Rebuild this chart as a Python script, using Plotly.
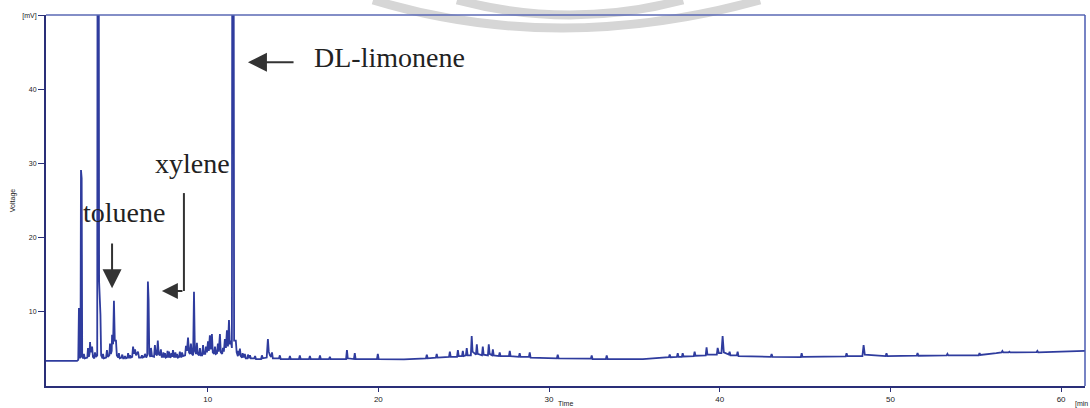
import plotly.graph_objects as go

# Chromatogram points (time in min, signal in mV)
time_min = [
    0.5, 2.35, 2.42, 2.46, 2.50, 2.55, 2.58, 2.62, 2.65, 2.72, 2.75, 2.80, 2.95, 2.99, 3.04, 3.08, 3.11, 3.15,
    3.23, 3.28, 3.36, 3.40, 3.46, 3.53, 3.58, 3.64, 3.72, 3.76, 3.84, 3.87, 3.92, 4.05, 4.10, 4.15, 4.24, 4.28,
    4.33, 4.38, 4.40, 4.46, 4.51, 4.56, 4.63, 4.68, 4.76, 4.80, 4.85, 4.95, 5.00, 5.05, 5.10, 5.16, 5.22, 5.30,
    5.34, 5.40, 5.45, 5.50, 5.58,
    5.63, 5.69, 5.75, 5.80, 5.92, 5.98, 6.10, 6.15, 6.20, 6.28, 6.33, 6.40, 6.46, 6.50, 6.54, 6.58, 6.64, 6.68,
    6.74, 6.86, 6.91, 6.96, 7.03, 7.08, 7.13, 7.20, 7.26, 7.31, 7.38, 7.41, 7.45, 7.50, 7.55, 7.62, 7.65, 7.69,
    7.74, 7.80, 7.85, 7.88, 7.92, 7.97,
    8.03, 8.08, 8.11, 8.15, 8.20, 8.26, 8.33, 8.37, 8.45, 8.50, 8.56, 8.68, 8.73, 8.79, 8.85, 8.91, 8.97, 9.02,
    9.08, 9.15, 9.20, 9.25,
    9.32, 9.37, 9.42, 9.50, 9.55, 9.60, 9.68, 9.73, 9.78, 9.86, 9.90, 9.96, 10.02, 10.07, 10.13, 10.18, 10.25,
    10.30, 10.38, 10.43, 10.48, 10.55, 10.60, 10.65, 10.72, 10.77, 10.85, 10.90, 10.95, 11.01, 11.07, 11.13,
    11.19, 11.25, 11.30, 11.36, 11.42, 11.48, 11.55, 11.65, 11.70, 11.77, 11.80, 11.84, 11.89, 11.94, 12.02,
    12.05, 12.13, 12.18, 12.23, 12.33, 12.36,
    12.43, 12.48, 12.53, 12.73, 12.78, 12.83, 13.13, 13.18, 13.23, 13.46, 13.53, 13.58, 13.65, 13.72, 13.77,
    13.82, 14.18, 14.23, 14.28, 14.77, 14.82, 14.87, 15.35, 15.40, 15.45, 15.94, 15.99, 16.04, 16.53, 16.58,
    16.63, 17.11, 17.16, 17.21, 18.11, 18.16, 18.21, 18.57, 18.62, 18.67, 19.92, 19.97, 20.02, 21.5, 22.79,
    22.84, 22.89, 23.37, 23.42, 23.47, 24.14, 24.19, 24.24, 24.61, 24.66, 24.71, 24.90, 24.95, 25.00, 25.13,
    25.18, 25.23, 25.42, 25.47, 25.52, 25.72, 25.77, 25.82, 26.07, 26.12, 26.17, 26.42, 26.47, 26.52, 26.66,
    26.71, 26.76, 27.06, 27.11, 27.16, 27.65, 27.70, 27.75, 28.23, 28.28, 28.33, 28.82, 28.87, 28.92, 30.46,
    30.51, 30.56, 32.45, 32.50, 32.55, 33.33, 33.38, 33.43, 35.5, 37.02, 37.07, 37.12, 37.49, 37.54, 37.59,
    37.78, 37.83, 37.88, 38.48, 38.53, 38.58, 39.18, 39.23, 39.28, 39.83, 39.88, 39.95, 40.10, 40.17, 40.24,
    40.53, 40.58, 40.63, 41.00, 41.05, 41.10, 42.99, 43.04, 43.09, 44.75, 44.80, 44.85, 47.38, 47.43, 47.48,
    48.36, 48.43, 48.50, 49.72, 49.77, 49.82, 51.54, 51.59, 51.64, 53.29, 53.34, 53.39, 55.17, 55.22, 55.27,
    56.2, 56.51, 56.56, 56.61, 56.92, 56.97, 57.02, 58.56, 58.61, 58.66, 60.0, 61.4,
]
voltage_mv = [
    3.25, 3.25, 3.4, 10.4, 3.6, 3.8, 29.1, 28.0, 3.8, 3.6, 4.2, 3.6, 3.7, 5.0, 3.8, 4.2, 5.8, 4.4,
    5.2, 3.8, 3.6, 4.4, 3.8, 4.0, 150, 14, 9.5, 4.0, 3.6, 4.2, 3.6, 3.7, 4.7, 3.8, 4.0, 5.6,
    4.2, 4.6, 6.8, 5.5, 11.4, 6.0, 6.0, 4.0, 3.7, 4.3, 3.6, 3.7, 4.1, 3.6, 3.6, 3.9, 3.6, 3.7,
    4.3, 3.6, 4.0, 3.7, 3.8,
    5.2, 4.2, 4.8, 4.0, 4.5, 3.7, 3.7, 4.0, 3.7, 3.8, 4.2, 3.7, 4.0, 14.0, 11.5, 4.2, 3.8, 5.0,
    3.9, 3.8, 5.4, 4.2, 4.0, 6.0, 4.2, 4.0, 4.8, 3.8, 3.8, 4.4, 3.7, 4.3, 3.7, 3.8, 4.6, 3.7,
    4.5, 3.7, 3.8, 4.3, 3.8, 4.7,
    3.8, 3.8, 4.4, 3.7, 4.2, 3.7, 3.8, 4.5, 3.7, 4.4, 3.9, 4.0, 5.3, 4.6, 6.4, 4.4, 4.2, 5.6,
    4.2, 4.0, 12.6, 4.6,
    4.2, 5.7, 4.2, 4.0, 5.0, 4.0, 4.0, 5.4, 4.2, 4.2, 5.2, 4.4, 5.9, 4.6, 6.7, 4.8, 6.9,
    4.4, 4.2, 5.2, 4.2, 4.3, 5.6, 4.5, 6.9, 4.4, 4.2, 5.0, 4.5, 6.2, 5.0, 7.4,
    5.2, 8.8, 5.5, 6.0, 5.0, 150, 6.0, 6.0, 4.4, 3.9, 4.6, 4.0, 4.9, 3.9, 3.7,
    4.3, 3.7, 4.2, 3.6, 3.6, 4.1,
    3.6, 4.0, 3.6, 3.6, 3.9, 3.5, 3.5, 4.0, 3.6, 3.7, 6.2, 4.5, 4.0, 3.8, 4.4,
    3.6, 3.6, 4.0, 3.5, 3.5, 3.9, 3.5, 3.5, 4.0, 3.5, 3.5, 3.9, 3.5, 3.5, 4.0,
    3.5, 3.5, 3.8, 3.5, 3.5, 4.7, 3.6, 3.5, 4.3, 3.5, 3.5, 4.2, 3.5, 3.45, 3.6,
    4.1, 3.6, 3.7, 4.2, 3.7, 3.8, 4.5, 3.8, 3.8, 4.7, 3.9, 3.9, 4.6, 3.9, 4.0,
    5.0, 4.0, 4.0, 6.6, 4.5, 4.1, 5.5, 4.2, 4.0, 5.2, 4.1, 4.0, 5.5, 4.2, 4.0,
    4.8, 4.0, 3.9, 4.4, 3.9, 3.9, 4.6, 3.9, 3.8, 4.3, 3.8, 3.8, 4.4, 3.7, 3.6,
    4.1, 3.6, 3.55, 4.0, 3.5, 3.5, 4.0, 3.5, 3.5, 3.75, 4.1, 3.75, 3.8, 4.3, 3.8,
    3.8, 4.3, 3.85, 3.9, 4.5, 3.95, 4.0, 5.1, 4.1, 4.1, 5.0, 4.3, 4.3, 6.6, 4.4,
    4.1, 4.5, 4.0, 4.0, 4.5, 3.9, 3.8, 4.2, 3.8, 3.75, 4.3, 3.8, 3.85, 4.3, 3.9,
    3.9, 5.4, 4.1, 3.9, 4.3, 3.9, 3.95, 4.3, 3.95, 4.0, 4.2, 4.0, 4.0, 4.3, 4.05,
    4.3, 4.4, 4.6, 4.4, 4.4, 4.5, 4.4, 4.45, 4.6, 4.4, 4.5, 4.6,
]

x_tick_values = [10, 20, 30, 40, 50, 60]
x_tick_labels = ["10", "20", "30", "40", "50", "60"]
y_tick_values = [10, 20, 30, 40, 50]
y_tick_labels = ["10", "20", "30", "40", "[mV]"]

compound_names = ["DL-limonene", "xylene", "toluene"]
label_time = [20.67, 9.14, 5.10]
label_mv = [44.4, 30.0, 23.3]

NAVY = "#2a2f78"
TRACE = "#2f3c9e"
ARROW = "#333333"
SERIF = "Liberation Serif, Times New Roman, serif"
SANS = "Liberation Sans, Arial, sans-serif"

fig = go.Figure()
fig.add_trace(go.Scatter(
    x=time_min, y=voltage_mv, mode="lines",
    line=dict(color=TRACE, width=1.8),
    hoverinfo="x+y", showlegend=False,
))

annotations = []
for name, t, v in zip(compound_names, label_time, label_mv):
    annotations.append(dict(x=t, y=v, xref="x", yref="y", text=name, showarrow=False,
                            font=dict(family=SERIF, size=28, color="#222222")))

# arrows (head at x,y ; tail at ax,ay)
arrow_common = dict(xref="x", yref="y", axref="x", ayref="y", text="", showarrow=True,
                    arrowhead=2, arrowwidth=2, arrowcolor=ARROW)
annotations.append(dict(x=12.36, y=43.7, ax=15.12, ay=43.7, arrowsize=1.9, **arrow_common))   # limonene
annotations.append(dict(x=4.40, y=13.1, ax=4.40, ay=19.35, arrowsize=1.9, **arrow_common))    # toluene
annotations.append(dict(x=7.32, y=12.72, ax=8.61, ay=12.72, arrowsize=1.6, **arrow_common))   # xylene (horizontal part)

annotations.append(dict(x=1.0, y=0, xref="paper", yref="paper", text="[min",
                        showarrow=False, xanchor="center", yanchor="top", yshift=-12, xshift=-4,
                        font=dict(family=SANS, size=7, color="#222222")))
annotations.append(dict(x=0.5, y=0, xref="paper", yref="paper", text="Time",
                        showarrow=False, xanchor="center", yanchor="top", yshift=-12,
                        font=dict(family=SANS, size=7, color="#222222")))

shapes = [
    # watermark arcs
    dict(type="path", xref="paper", yref="paper", layer="below",
         path="M 0.3148,1.0404 Q 0.4925,0.8895 0.6872,1.0404",
         line=dict(color="#d6d6d6", width=9)),
    dict(type="path", xref="paper", yref="paper", layer="below",
         path="M 0.3956,1.0404 Q 0.5043,0.9596 0.6131,1.0404",
         line=dict(color="#d6d6d6", width=9)),
    # xylene elbow vertical segment
    dict(type="line", xref="x", yref="y", x0=8.61, x1=8.61, y0=25.98, y1=12.72,
         line=dict(color=ARROW, width=2)),
    # top and right frame
    dict(type="line", xref="paper", yref="paper", x0=0, x1=1, y0=1, y1=1,
         line=dict(color="#5a68b4", width=1.5)),
    dict(type="line", xref="paper", yref="paper", x0=1, x1=1, y0=0, y1=1,
         line=dict(color="#4a5ab0", width=1.5)),
]

fig.update_layout(
    width=1090, height=408,
    margin=dict(l=46, r=5, t=15, b=22),
    paper_bgcolor="white", plot_bgcolor="white",
    annotations=annotations, shapes=shapes,
    font=dict(family=SANS, size=7, color="#222222"),
    xaxis=dict(range=[0.53, 61.4], tickvals=x_tick_values, ticktext=x_tick_labels,
               showgrid=False, zeroline=False, showline=True, linecolor=NAVY, linewidth=2,
               ticks="outside", ticklen=4, tickcolor=NAVY, tickwidth=1,
               tickfont=dict(family=SANS, size=8, color="#222222")),
    yaxis=dict(range=[-0.15, 50.1], tickvals=y_tick_values, ticktext=y_tick_labels,
               showgrid=False, zeroline=False, showline=True, linecolor=NAVY, linewidth=2,
               ticks="outside", ticklen=6, tickcolor=NAVY, tickwidth=1,
               tickfont=dict(family=SANS, size=7, color="#222222"),
               title=dict(text="Voltage", font=dict(family=SANS, size=7), standoff=6)),
)

fig.write_html("out.html")
